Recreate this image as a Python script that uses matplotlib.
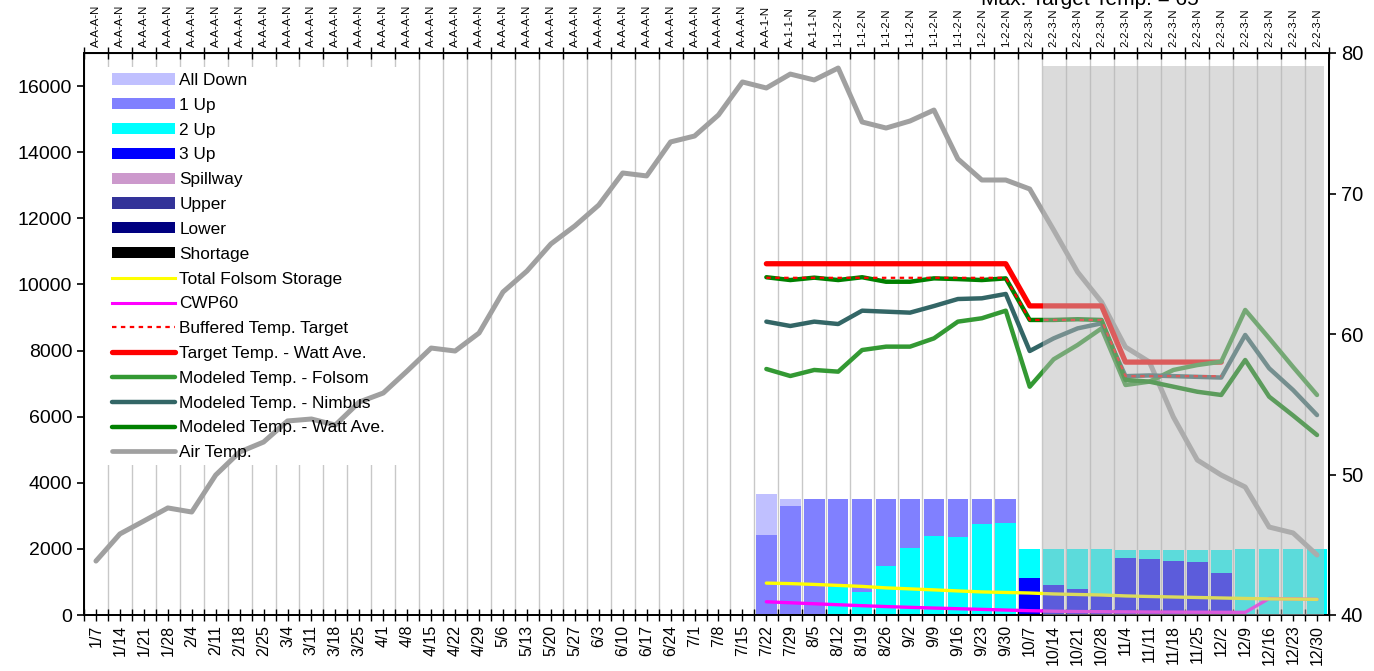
import numpy as np
import matplotlib
matplotlib.use('Agg')
import matplotlib.pyplot as plt
from matplotlib.patches import Rectangle, Patch
from matplotlib.lines import Line2D

plt.rcParams['font.family'] = ['Liberation Sans', 'DejaVu Sans']

# ---------------- data ----------------
weeks = ['1/7', '1/14', '1/21', '1/28', '2/4', '2/11', '2/18', '2/25', '3/4', '3/11',
         '3/18', '3/25', '4/1', '4/8', '4/15', '4/22', '4/29', '5/6', '5/13', '5/20',
         '5/27', '6/3', '6/10', '6/17', '6/24', '7/1', '7/8', '7/15', '7/22', '7/29',
         '8/5', '8/12', '8/19', '8/26', '9/2', '9/9', '9/16', '9/23', '9/30', '10/7',
         '10/14', '10/21', '10/28', '11/4', '11/11', '11/18', '11/25', '12/2', '12/9',
         '12/16', '12/23', '12/30']

ops_codes = (['A-A-A-N'] * 28 + ['A-A-1-N'] + ['A-1-1-N'] * 2 + ['1-1-2-N'] * 6
             + ['1-2-2-N'] * 2 + ['2-2-3-N'] * 13)

# release bars (left axis), weeks 7/22 .. 12/30 (first 28 weeks have none)
pad = [0] * 28
all_down = pad + [1240, 210, 0, 0, 0, 0, 0, 0, 0, 0, 0, 0,
                  0, 0, 0, 0, 0, 0, 0, 0, 0, 0, 0, 0]
up1 = pad + [2420, 3300, 3510, 2660, 2810, 2030, 1480, 1120, 1150, 760, 730, 0,
             0, 0, 0, 0, 0, 0, 0, 0, 0, 0, 0, 0]
up2 = pad + [0, 0, 0, 850, 700, 1480, 2030, 2390, 2360, 2750, 2780, 880,
             1093, 1214, 1400, 242, 272, 333, 363, 696, 2000, 2000, 2000, 2000]
up3 = pad + [0, 0, 0, 0, 0, 0, 0, 0, 0, 0, 0, 1120,
             907, 786, 600, 1724, 1694, 1633, 1603, 1270, 0, 0, 0, 0]

nan = np.nan
storage = [nan] * 28 + [965, 950, 925, 895, 865, 820, 790, 760, 728, 698, 682, 665,
                        637, 620, 605, 577, 560, 545, 530, 515, 500, 488, 482, 472]
cwp60 = [nan] * 28 + [400, 370, 340, 310, 282, 255, 232, 210, 190, 170, 150, 130,
                      115, 105, 100, 95, 90, 88, 85, 82, 80, 500, 488, 472]

# temperatures (right axis)
air_temp = [43.84, 45.77, 46.69, 47.62, 47.33, 49.96, 51.60, 52.31, 53.81, 53.95,
            53.52, 55.16, 55.80, 57.37, 59.00, 58.79, 60.07, 62.99, 64.48, 66.41,
            67.69, 69.18, 71.46, 71.25, 73.67, 74.09, 75.59, 77.94, 77.51, 78.50,
            78.08, 78.93, 75.09, 74.66, 75.16, 75.94, 72.46, 70.96, 70.96, 70.32,
            67.40, 64.41, 62.28, 59.07, 58.01, 54.09, 51.03, 49.96, 49.11, 46.26,
            45.84, 44.27]
target = [nan] * 28 + [65, 65, 65, 65, 65, 65, 65, 65, 65, 65, 65, 62,
                       62, 62, 62, 58, 58, 58, 58, 58, nan, nan, nan, nan]
buffered = [nan] * 28 + [64, 64, 64, 64, 64, 64, 64, 64, 64, 64, 64, 61,
                         61, 61, 61, 57, 57, 57, 57, 57, nan, nan, nan, nan]
mod_folsom = [nan] * 28 + [57.51, 57.01, 57.44, 57.32, 58.86, 59.10, 59.10, 59.69,
                           60.88, 61.12, 61.66, 56.25, 58.20, 59.22, 60.40, 56.37,
                           56.61, 57.44, 57.79, 58.03, 61.71, 59.70, 57.65, 55.66]
mod_nimbus = [nan] * 28 + [60.88, 60.57, 60.88, 60.71, 61.66, 61.59, 61.52, 61.99,
                           62.49, 62.54, 62.85, 58.79, 59.69, 60.40, 60.76, 57.00,
                           57.05, 57.00, 56.95, 56.90, 59.93, 57.56, 56.01, 54.23]
mod_watt = [nan] * 28 + [64.04, 63.84, 64.01, 63.84, 64.04, 63.72, 63.72, 63.96,
                         63.91, 63.84, 63.96, 61.00, 61.00, 61.05, 61.00, 56.73,
                         56.61, 56.25, 55.89, 55.66, 58.15, 55.54, 54.20, 52.81]

title = 'Max. Target Temp. = 65'

# ---------------- figure ----------------
W, H = 1374, 671
fig = plt.figure(figsize=(W / 100, H / 100), dpi=100)
ax = fig.add_axes([84 / W, 56 / H, (1329 - 84) / W, (615 - 53) / H])
x = np.arange(len(weeks))
ax.set_xlim(-0.5, 51.5)
ax.set_ylim(0, 17000)

ax.set_xticks(x)
ax.set_xticklabels(weeks, rotation=90, fontsize=11.5)
ax.set_xticks(np.arange(-0.5, 52, 1), minor=True)
ax.grid(which='minor', axis='x', color='#c8c8c8', lw=1)
ax.set_axisbelow(True)
ax.set_yticks(np.arange(0, 16001, 2000))
ax.tick_params(axis='y', direction='out', length=5, labelsize=14, width=1.2)
ax.tick_params(axis='x', which='major', direction='inout', length=8, width=1.0,
               bottom=True, top=False, pad=3)
ax.tick_params(axis='x', which='minor', direction='inout', length=8, width=1.0,
               bottom=True, top=True)

# white legend background (covers gridlines only)
ax.add_patch(Rectangle((0.002, 0.267), 0.258, 0.708, transform=ax.transAxes,
                       facecolor='white', edgecolor='none', zorder=1.5))

bw = 0.86
bottom = np.zeros(len(weeks))
for vals, col in [(up3, '#0000ff'), (up2, '#00ffff'), (up1, '#8080ff'), (all_down, '#c0c0ff')]:
    v = np.array(vals, dtype=float)
    ax.bar(x, v, bw, bottom=bottom, color=col, lw=0, zorder=2)
    bottom = bottom + v

ax.plot(x, cwp60, color='#ff00ff', lw=2.4, zorder=3, solid_capstyle='round')
ax.plot(x, storage, color='#ffff00', lw=2.4, zorder=3.1, solid_capstyle='round')

ax2 = ax.twinx()
ax2.set_ylim(40, 80)
ax2.set_yticks([40, 50, 60, 70, 80])
ax2.tick_params(axis='y', direction='out', length=5, labelsize=14.5, width=1.2)

ax2.plot(x, air_temp, color='#a0a0a0', lw=3.6, solid_capstyle='round', zorder=2)
ax2.plot(x, target, color='#ff0000', lw=3.8, solid_capstyle='round', zorder=3)
ax2.plot(x, mod_folsom, color='#339933', lw=3.2, solid_capstyle='round', zorder=3)
ax2.plot(x, mod_nimbus, color='#336666', lw=3.2, solid_capstyle='round', zorder=3)
ax2.plot(x, mod_watt, color='#008000', lw=3.2, solid_capstyle='round', zorder=3)
ax2.plot(x, buffered, color='#ff0000', lw=1.6, ls=(0, (2, 2)), zorder=4)

# forecast shading overlay
ax2.add_patch(Rectangle((39.55, 40), 51.3 - 39.55, 79.06 - 40, facecolor='#b8b8b8',
                        alpha=0.5, edgecolor='none', zorder=10))

for a in (ax, ax2):
    for s in a.spines.values():
        s.set_linewidth(1.3)
        s.set_color('black')

sec = ax.secondary_xaxis('top')
sec.set_xticks(x, labels=ops_codes)
sec.tick_params(length=0, labelsize=8.2, rotation=90, pad=4)

fig.text(1090 / W, (H - 5) / H, title, ha='center', va='baseline', fontsize=15)

handles = [
    Patch(facecolor='#c0c0ff', label='All Down'),
    Patch(facecolor='#8080ff', label='1 Up'),
    Patch(facecolor='#00ffff', label='2 Up'),
    Patch(facecolor='#0000ff', label='3 Up'),
    Patch(facecolor='#cc99cc', label='Spillway'),
    Patch(facecolor='#333399', label='Upper'),
    Patch(facecolor='#000080', label='Lower'),
    Patch(facecolor='#000000', label='Shortage'),
    Line2D([], [], color='#ffff00', lw=2.2, label='Total Folsom Storage'),
    Line2D([], [], color='#ff00ff', lw=2.2, label='CWP60'),
    Line2D([], [], color='#ff0000', lw=1.6, ls=(0, (2, 2)), label='Buffered Temp. Target'),
    Line2D([], [], color='#ff0000', lw=3.8, solid_capstyle='round', label='Target Temp. - Watt Ave.'),
    Line2D([], [], color='#339933', lw=3.2, solid_capstyle='round', label='Modeled Temp. - Folsom'),
    Line2D([], [], color='#336666', lw=3.2, solid_capstyle='round', label='Modeled Temp. - Nimbus'),
    Line2D([], [], color='#008000', lw=3.2, solid_capstyle='round', label='Modeled Temp. - Watt Ave.'),
    Line2D([], [], color='#a0a0a0', lw=3.4, solid_capstyle='round', label='Air Temp.'),
]
leg = ax2.legend(handles=handles, loc='upper left', bbox_to_anchor=(112 / W, (H - 73) / H),
                 bbox_transform=fig.transFigure, frameon=False, fontsize=12.4,
                 borderaxespad=0, borderpad=0, handlelength=3.65, handleheight=0.62,
                 handletextpad=0.25, labelspacing=0.57)
leg.set_zorder(20)

fig.savefig('out.png', dpi=100)
